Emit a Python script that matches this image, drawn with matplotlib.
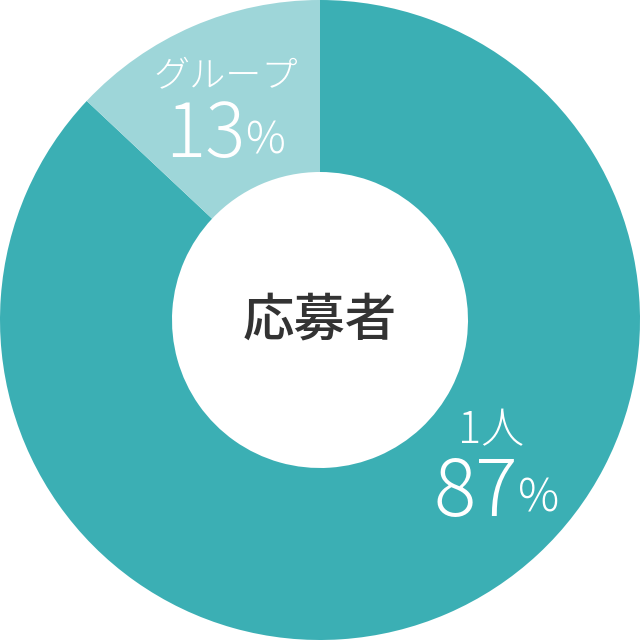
import matplotlib
matplotlib.use('Agg')
import matplotlib.pyplot as plt

# data
labels = ['1人', 'グループ']
values = [87, 13]
colors = ['#3BAFB4', '#9ED6D9']
center_label = '応募者'

plt.rcParams['font.family'] = ['Noto Sans CJK JP', 'DejaVu Sans']

fig = plt.figure(figsize=(6.4, 6.4), dpi=100)
ax = fig.add_axes([0, 0, 1, 1])
ax.pie(values, colors=colors, startangle=90, counterclock=False, radius=1.0,
       wedgeprops=dict(width=1 - 148 / 320, edgecolor='none'))
ax.set_xlim(-1, 1)
ax.set_ylim(-1, 1)
ax.set_aspect('equal')
ax.axis('off')


def px(x, y):
    return (x - 320) / 320, (320 - y) / 320


# center text
ax.text(*px(320, 320), center_label, ha='center', va='center', fontsize=37,
        color='#333333', fontweight='medium')

# label for 1人
ax.text(*px(491, 431), labels[0], ha='center', va='center', fontsize=31,
        color='white', fontweight='light')
ax.text(*px(518, 494), str(values[0]), ha='right', va='center', fontsize=57,
        color='white', fontweight='light')
ax.text(*px(518, 499), '%', ha='left', va='center', fontsize=33,
        color='white', fontweight='light')

# label for グループ
ax.text(*px(226, 77), labels[1], ha='center', va='center', fontsize=26,
        color='white', fontweight='light')
ax.text(*px(245, 136), str(values[1]), ha='right', va='center', fontsize=54,
        color='white', fontweight='light')
ax.text(*px(245, 141), '%', ha='left', va='center', fontsize=32,
        color='white', fontweight='light')

fig.savefig('out.png', dpi=100)
